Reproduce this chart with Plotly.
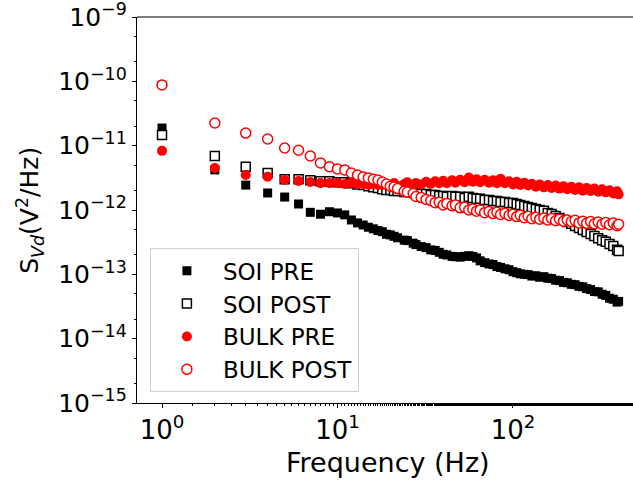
import plotly.graph_objects as go

freq = [1, 2, 3, 4, 5, 6, 7, 8, 9, 10, 11, 12, 13, 14, 15, 16, 17, 18, 19, 20, 21, 22,
        24, 25, 27, 28, 30, 32, 34, 36, 38, 40, 42, 45, 47, 50, 53, 56, 59, 62, 65, 69,
        73, 77, 81, 85, 90, 95, 100, 105, 110, 116, 122, 128, 135, 142, 150, 158, 166, 175,
        184, 194, 204, 215, 226, 238, 250, 263, 277, 291, 306, 322, 338, 355, 373, 392, 400]

soi_pre = [1.88e-11, 4.2e-12, 2.44e-12, 1.84e-12, 1.59e-12, 1.24e-12, 9.2e-13, 8.6e-13, 9.4e-13, 9.0e-13,
           8.4e-13, 7.0e-13, 6.3e-13, 5.85e-13, 5.4e-13, 5.1e-13, 4.8e-13, 4.6e-13, 4.2e-13, 4.1e-13,
           3.9e-13, 3.7e-13, 3.4e-13, 3.35e-13, 3.05e-13, 2.9e-13, 2.7e-13, 2.6e-13, 2.4e-13, 2.35e-13,
           2.2e-13, 2.05e-13, 2.0e-13, 1.9e-13, 1.88e-13, 1.85e-13, 1.9e-13, 1.95e-13, 1.9e-13, 1.8e-13,
           1.62e-13, 1.52e-13, 1.45e-13, 1.42e-13, 1.32e-13, 1.28e-13, 1.22e-13, 1.18e-13, 1.1e-13, 1.06e-13,
           1.02e-13, 1.0e-13, 9.9e-14, 9.4e-14, 9.5e-14, 9.0e-14, 9.2e-14, 8.7e-14, 8.6e-14, 8.1e-14,
           8.0e-14, 7.5e-14, 7.4e-14, 7.0e-14, 6.9e-14, 6.5e-14, 6.4e-14, 6.0e-14, 5.8e-14, 5.4e-14,
           5.35e-14, 4.9e-14, 4.7e-14, 4.25e-14, 4.1e-14, 3.7e-14, 3.8e-14]

soi_post = [1.47e-11, 6.9e-12, 4.7e-12, 3.75e-12, 3.0e-12, 3.0e-12, 2.9e-12, 2.8e-12, 2.8e-12, 2.7e-12,
            2.7e-12, 2.6e-12, 2.5e-12, 2.45e-12, 2.35e-12, 2.25e-12, 2.2e-12, 2.1e-12, 2.05e-12, 2.05e-12,
            1.98e-12, 1.98e-12, 1.9e-12, 1.9e-12, 1.85e-12, 1.85e-12, 1.78e-12, 1.78e-12, 1.71e-12, 1.71e-12,
            1.65e-12, 1.65e-12, 1.6e-12, 1.65e-12, 1.6e-12, 1.6e-12, 1.54e-12, 1.6e-12, 1.54e-12, 1.49e-12,
            1.49e-12, 1.43e-12, 1.43e-12, 1.38e-12, 1.38e-12, 1.33e-12, 1.33e-12, 1.28e-12, 1.28e-12, 1.24e-12,
            1.2e-12, 1.15e-12, 1.11e-12, 1.07e-12, 1.04e-12, 1.0e-12, 9.7e-13, 9.0e-13, 8.7e-13, 8.1e-13,
            7.5e-13, 7.0e-13, 6.5e-13, 6.1e-13, 5.65e-13, 5.25e-13, 4.9e-13, 4.55e-13, 4.25e-13, 3.95e-13,
            3.65e-13, 3.4e-13, 3.2e-13, 2.95e-13, 2.75e-13, 2.4e-13, 2.3e-13]

bulk_pre = [8.3e-12, 4.5e-12, 3.5e-12, 3.3e-12, 2.92e-12, 2.82e-12, 2.72e-12, 2.62e-12, 2.62e-12, 2.62e-12,
            2.53e-12, 2.62e-12, 2.53e-12, 2.53e-12, 2.44e-12, 2.53e-12, 2.44e-12, 2.44e-12, 2.53e-12, 2.44e-12,
            2.62e-12, 2.35e-12, 2.53e-12, 2.7e-12, 2.44e-12, 2.62e-12, 2.5e-12, 2.75e-12, 2.55e-12, 2.8e-12,
            2.6e-12, 2.85e-12, 2.6e-12, 2.9e-12, 2.65e-12, 2.95e-12, 2.7e-12, 3.2e-12, 2.75e-12, 3.0e-12,
            2.7e-12, 2.95e-12, 2.65e-12, 2.9e-12, 2.6e-12, 3.05e-12, 2.6e-12, 2.8e-12, 2.5e-12, 2.75e-12,
            2.45e-12, 2.65e-12, 2.4e-12, 2.55e-12, 2.3e-12, 2.5e-12, 2.25e-12, 2.45e-12, 2.2e-12, 2.4e-12,
            2.15e-12, 2.35e-12, 2.1e-12, 2.3e-12, 2.05e-12, 2.25e-12, 2.0e-12, 2.2e-12, 1.98e-12, 2.15e-12,
            1.92e-12, 2.1e-12, 1.88e-12, 2.02e-12, 1.8e-12, 1.95e-12, 1.75e-12]

bulk_post = [8.8e-11, 2.25e-11, 1.57e-11, 1.27e-11, 9.2e-12, 8.5e-12, 6.9e-12, 5.4e-12, 4.7e-12, 4.35e-12,
             4.2e-12, 3.75e-12, 3.5e-12, 3.25e-12, 3.15e-12, 3.0e-12, 2.92e-12, 2.72e-12, 2.53e-12, 2.35e-12,
             2.27e-12, 2.15e-12, 1.95e-12, 1.9e-12, 1.8e-12, 1.62e-12, 1.56e-12, 1.46e-12, 1.4e-12, 1.3e-12,
             1.32e-12, 1.2e-12, 1.26e-12, 1.16e-12, 1.2e-12, 1.08e-12, 1.1e-12, 1.0e-12, 1.04e-12, 9.6e-13,
             1.0e-12, 9.1e-13, 9.5e-13, 8.8e-13, 9.2e-13, 8.5e-13, 8.9e-13, 8.2e-13, 8.6e-13, 7.9e-13,
             8.3e-13, 7.6e-13, 8.0e-13, 7.3e-13, 7.7e-13, 7.2e-13, 7.5e-13, 7.0e-13, 7.4e-13, 6.8e-13,
             7.2e-13, 6.7e-13, 7.0e-13, 6.6e-13, 6.9e-13, 6.3e-13, 6.7e-13, 6.2e-13, 6.6e-13, 6.1e-13,
             6.5e-13, 6.0e-13, 6.4e-13, 5.9e-13, 6.3e-13, 5.7e-13, 6.0e-13]

x_tickvals = [1, 10, 100]
x_ticktext = ["10<sup>0</sup>", "10<sup>1</sup>", "10<sup>2</sup>"]
y_tickvals = [1e-15, 1e-14, 1e-13, 1e-12, 1e-11, 1e-10, 1e-9]
y_ticktext = ["10<sup>\u221215</sup>", "10<sup>\u221214</sup>", "10<sup>\u221213</sup>",
              "10<sup>\u221212</sup>", "10<sup>\u221211</sup>", "10<sup>\u221210</sup>",
              "10<sup>\u22129</sup>"]

FONT = "DejaVu Sans"

fig = go.Figure()
fig.add_trace(go.Scatter(x=freq, y=soi_pre, mode="markers", name="SOI PRE",
                         marker=dict(symbol="square", size=9, color="black",
                                     line=dict(width=0))))
fig.add_trace(go.Scatter(x=freq, y=soi_post, mode="markers", name="SOI POST",
                         marker=dict(symbol="square", size=9, color="white",
                                     line=dict(width=1.5, color="black"))))
fig.add_trace(go.Scatter(x=freq, y=bulk_pre, mode="markers", name="BULK PRE",
                         marker=dict(symbol="circle", size=10, color="red",
                                     line=dict(width=0))))
fig.add_trace(go.Scatter(x=freq, y=bulk_post, mode="markers", name="BULK POST",
                         marker=dict(symbol="circle", size=10, color="white",
                                     line=dict(width=1.5, color="red"))))

fig.update_layout(
    width=633, height=482,
    margin=dict(l=137, r=0, t=17, b=79),
    paper_bgcolor="white", plot_bgcolor="white",
    font=dict(family=FONT, color="black"),
    showlegend=True,
    legend=dict(x=0.026, y=0.028, xanchor="left", yanchor="bottom",
                bgcolor="rgba(255,255,255,0.8)", bordercolor="#d0d0d0", borderwidth=1,
                font=dict(size=23, family=FONT), itemwidth=62, tracegroupgap=0),
    xaxis=dict(type="log", range=[-0.1425, 2.684], showgrid=False, zeroline=False,
               showline=True, linecolor="black", linewidth=1.2, mirror=False,
               ticks="outside", ticklen=4, tickcolor="black",
               tickvals=x_tickvals, ticktext=x_ticktext, ticklabeloverflow="allow",
               tickfont=dict(size=26, family=FONT),
               minor=dict(ticks="outside", ticklen=2, tickcolor="black", showgrid=False)),
    yaxis=dict(type="log", range=[-15, -9], showgrid=False, zeroline=False,
               showline=True, linecolor="black", linewidth=1.2, mirror=False,
               ticks="outside", ticklen=4, tickcolor="black",
               tickvals=y_tickvals, ticktext=y_ticktext, ticklabeloverflow="allow",
               tickfont=dict(size=25, family=FONT),
               minor=dict(ticks="outside", ticklen=2, tickcolor="black", showgrid=False)),
)

fig.add_shape(type="line", xref="paper", yref="paper", x0=0, x1=1, y0=1, y1=1,
              line=dict(color="black", width=1.2))

fig.add_annotation(text="Frequency (Hz)", xref="paper", yref="paper", x=0.507, y=-0.155,
                   xanchor="center", yanchor="middle", showarrow=False,
                   font=dict(size=27, family=FONT))
fig.add_annotation(text="S<sub><i>Vd</i></sub>(V<sup>2</sup>/Hz)", xref="paper", yref="paper",
                   x=-0.216, y=0.5, xanchor="center", yanchor="middle", textangle=-90,
                   showarrow=False, font=dict(size=25, family=FONT))

fig.write_html("out.html", config={"displayModeBar": False},
               post_script="document.body.style.margin='0';document.body.style.padding='0';")
